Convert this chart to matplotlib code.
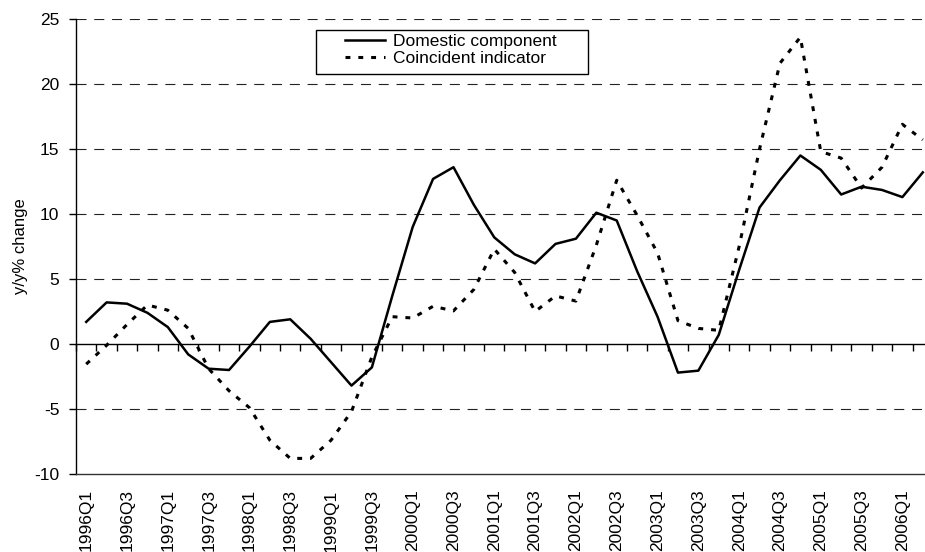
import numpy as np
import matplotlib
matplotlib.use("Agg")
import matplotlib.pyplot as plt
from matplotlib.patches import Rectangle

plt.rcParams['font.family'] = ['Liberation Sans', 'DejaVu Sans']
plt.rcParams['axes.unicode_minus'] = False

# ---- data ----
quarters = [f"{y}Q{q}" for y in range(1996, 2007) for q in range(1, 5)][:42]

domestic = [1.7, 3.2, 3.1, 2.4, 1.3, -0.8, -1.9, -2.0, -0.2, 1.7,
            1.9, 0.4, -1.4, -3.2, -1.8, 3.7, 9.0, 12.7, 13.6, 10.7,
            8.2, 6.9, 6.2, 7.7, 8.1, 10.1, 9.5, 5.6, 2.1, -2.2,
            -2.05, 0.7, 5.7, 10.5, 12.6, 14.5, 13.4, 11.5, 12.1, 11.85,
            11.3, 13.2]

coincident = [-1.55, -0.1, 1.5, 3.0, 2.6, 1.2, -1.9, -3.6, -4.9, -7.4,
              -8.8, -8.8, -7.4, -5.2, -1.0, 2.1, 2.0, 2.9, 2.55, 4.2,
              7.3, 5.5, 2.5, 3.7, 3.3, 7.6, 12.6, 9.9, 7.0, 1.8,
              1.2, 1.05, 7.5, 15.0, 21.6, 23.6, 14.8, 14.3, 12.0, 13.6,
              16.9, 15.7]

yticks = [-10, -5, 0, 5, 10, 15, 20, 25]
ymin, ymax = -10, 25

FS = 12.5
W, H = 925, 552

fig = plt.figure(figsize=(W / 100, H / 100), dpi=100)
# axes runs slightly past the right edge, as in the reference (clipped chart)
ax = fig.add_axes([76 / W, 1 - 474 / H, 857 / W, 455 / H])

x = np.arange(len(quarters))

# dashed gridlines
for v in yticks[1:]:
    if v == 0:
        continue
    ax.axhline(v, color='#222222', lw=0.8, linestyle=(0, (9, 7)), zorder=1)

ax.plot(x, domestic, color='black', lw=1.8, label='Domestic component', zorder=3)
ax.plot(x, coincident, color='black', lw=2.2, linestyle=(0, (1.6, 2.6)),
        label='Coincident indicator', zorder=3)

ax.set_xlim(-0.5, len(quarters) - 0.5)
ax.set_ylim(ymin, ymax)

# spines
for s in ['top', 'right']:
    ax.spines[s].set_visible(False)
ax.spines['left'].set_color('black')
ax.spines['left'].set_linewidth(1)
ax.spines['bottom'].set_color('#333333')
ax.spines['bottom'].set_linewidth(1)

ax.set_yticks(yticks)
ax.tick_params(axis='y', direction='out', length=5, width=1, pad=7, labelsize=FS)

ax.set_xticks(x[::2])
ax.set_xticklabels(quarters[::2], rotation=90, va='top', ha='center', fontsize=FS)
ax.tick_params(axis='x', length=0, pad=11)

# zero axis line with category tick marks
sec = ax.secondary_xaxis((0 - ymin) / (ymax - ymin))
sec.set_xticks(np.arange(len(quarters) + 1) - 0.5)
sec.set_xticklabels([])
sec.tick_params(direction='out', length=5, width=1, color='black')
sec.spines['bottom'].set_color('black')
sec.spines['bottom'].set_linewidth(1)

ax.set_ylabel('y/y% change', fontsize=12)
ax.yaxis.set_label_coords(-0.056, 0.5)

# legend with Excel-style box
leg = ax.legend(loc='upper left', bbox_to_anchor=((345 - 76) / 857, (474 - 34) / 455),
                frameon=False, fontsize=FS, handlelength=2.3, handletextpad=0.45,
                borderpad=0, borderaxespad=0, labelspacing=0.1)
ax.add_patch(Rectangle(((316 - 76) / 857, (474 - 74) / 455), 272 / 857, 44 / 455,
                       transform=ax.transAxes, fill=True, facecolor='white',
                       edgecolor='black', lw=1, zorder=4))
leg.set_zorder(5)

fig.savefig('out.png', dpi=100)
